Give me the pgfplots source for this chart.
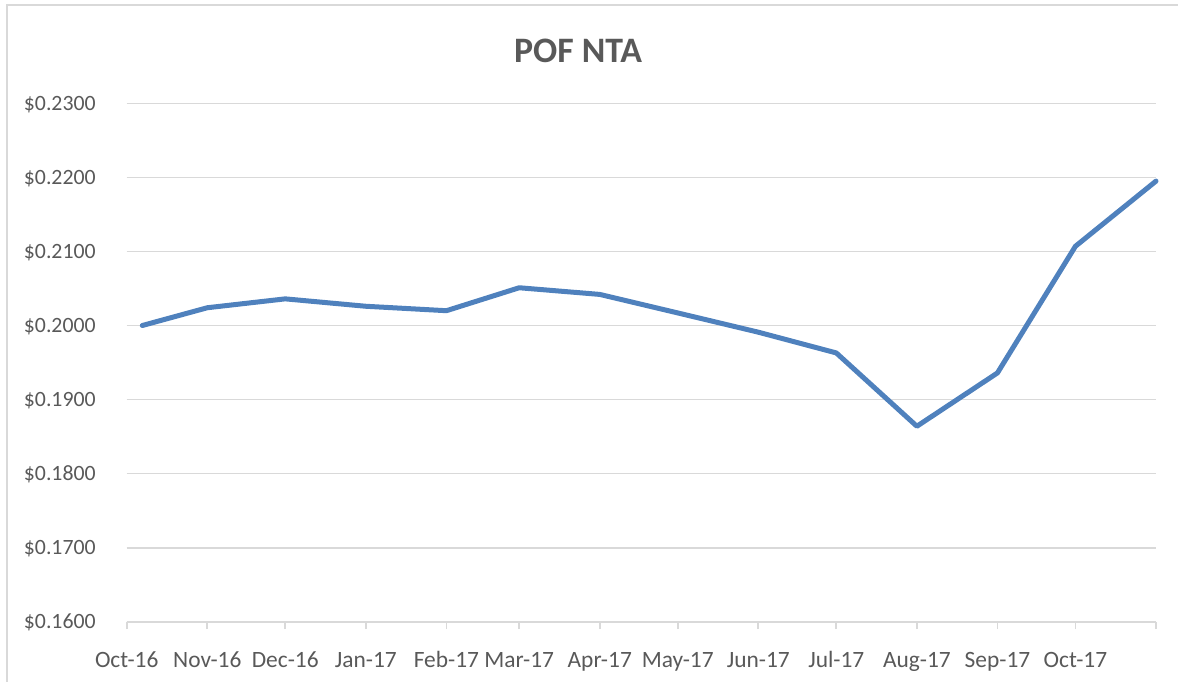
\documentclass[border=0pt]{standalone}
\usepackage{pgfplots}
\pgfplotsset{compat=1.18}
\usepackage{fontspec}
\setmainfont{Carlito}
\definecolor{gridgray}{HTML}{D9D9D9}
\definecolor{textgray}{HTML}{595959}
\definecolor{lineblue}{HTML}{4F81BD}
\begin{document}
\begin{tikzpicture}
\path[use as bounding box] (-63.35pt,-29.6pt) rectangle (525.65pt,310.9pt);
\draw[gridgray, line width=0.9pt] (-59.85pt,-40pt) -- (-59.85pt,308.4pt) -- (540pt,308.4pt);
\begin{axis}[
  at={(0pt,0pt)}, anchor=south west,
  scale only axis, width=514.65pt, height=259.25pt,
  xmin=0, xmax=396, ymin=0.16, ymax=0.23,
  clip=false,
  axis x line*=bottom, axis y line*=left,
  x axis line style={-, draw=gridgray, line width=0.9pt},
  y axis line style={draw=none},
  xtick={0,31,61,92,123,151,182,212,243,273,304,335,365,396},
  xticklabels={Oct-16,Nov-16,Dec-16,Jan-17,Feb-17,Mar-17,Apr-17,May-17,Jun-17,Jul-17,Aug-17,Sep-17,Oct-17,{}},
  ytick={0.16,0.17,0.18,0.19,0.20,0.21,0.22,0.23},
  yticklabels={\$0.1600,\$0.1700,\$0.1800,\$0.1900,\$0.2000,\$0.2100,\$0.2200,\$0.2300},
  tick align=outside,
  major tick length=3.6pt,
  xtick style={draw=gridgray, line width=0.9pt},
  ytick style={draw=none},
  ymajorgrids=true,
  grid style={draw=gridgray, line width=0.8pt},
  xticklabel style={font=\fontsize{11.7}{14}\selectfont, text=textgray, anchor=base, inner sep=0pt, yshift=-19pt},
  yticklabel style={font=\fontsize{10.9}{13}\selectfont, text=textgray, anchor=base east, inner sep=0pt, xshift=-11.7pt, yshift=-3.5pt},
]
\addplot[lineblue, line width=2.5pt, line join=round, line cap=round] coordinates {
  (6,0.2000) (31,0.2024) (61,0.2036) (92,0.2026) (123,0.2020) (151,0.2051) (182,0.2042)
  (212,0.2017) (243,0.1991) (273,0.1963) (304,0.1864) (335,0.1936) (365,0.2107) (396,0.2195)
};
\end{axis}
\node[anchor=base, inner sep=0pt, text=textgray, font=\fontsize{17.9}{21}\selectfont\bfseries] at (225.65pt,279.55pt) {POF NTA};
\end{tikzpicture}
\end{document}
